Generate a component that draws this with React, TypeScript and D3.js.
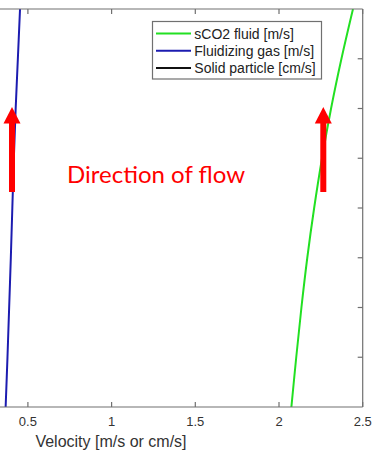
import React from "react";
import * as d3 from "d3";

// Height stations along the riser (evenly spaced) and velocities at each station
const heights = [0, 1, 2, 3, 4, 5, 6, 7, 8];
const sco2Velocity = [2.074, 2.103, 2.134, 2.169, 2.21, 2.257, 2.311, 2.373, 2.442];
const gasVelocity = [0.367, 0.378, 0.388, 0.398, 0.407, 0.416, 0.427, 0.44, 0.453];
const xTicks = [0.5, 1, 1.5, 2, 2.5];
const yTicks = [1, 2, 3, 4, 5, 6, 7];

const legendItems = [
  { label: "sCO2 fluid [m/s]", color: "#22e022" },
  { label: "Fluidizing gas [m/s]", color: "#1c1cb0" },
  { label: "Solid particle [cm/s]", color: "#111111" },
];

const W = 374;
const H = 451;
const plotTop = 9;
const plotBottom = 407;
const plotRight = 362.7;
const pxPerUnit = 167.4;

export default function App() {
  const x = d3
    .scaleLinear()
    .domain([0, 2.5])
    .range([plotRight - 2.5 * pxPerUnit, plotRight]);
  const y = d3.scaleLinear().domain([0, 8]).range([plotBottom, plotTop]);

  const line = (vals: number[]) =>
    d3
      .line<number>()
      .x((v) => x(v))
      .y((_, i) => y(heights[i]))
      .curve(d3.curveCatmullRom)(vals) || "";

  const axisColor = "#707070";
  const tickLen = 5;
  const font = "'Liberation Sans', Arial, Helvetica, sans-serif";

  const arrow = (cx: number) => (
    <g fill="#ff0000">
      <rect x={cx - 3} y={122} width={6} height={70} />
      <path d={`M${cx},107 L${cx + 8.5},123.5 L${cx - 8.5},123.5 Z`} />
    </g>
  );

  return (
    <svg
      width={W}
      height={H}
      style={{ position: "absolute", left: 0, top: 0, background: "#fff" }}
    >
      <defs>
        <clipPath id="plot-clip">
          <rect x={x(0)} y={plotTop} width={plotRight - x(0)} height={plotBottom - plotTop} />
        </clipPath>
      </defs>
      <rect width={W} height={H} fill="#fff" />

      {/* data lines */}
      <g clipPath="url(#plot-clip)" fill="none" strokeWidth={2}>
        <path d={line(gasVelocity)} stroke="#1c1cb0" />
        <path d={line(sco2Velocity)} stroke="#22e022" />
      </g>

      {/* axes frame */}
      <g stroke={axisColor} strokeWidth={1.2} fill="none">
        <line x1={x(0)} x2={plotRight} y1={plotTop} y2={plotTop} />
        <line x1={x(0)} x2={plotRight} y1={plotBottom} y2={plotBottom} />
        <line x1={plotRight} x2={plotRight} y1={plotTop} y2={plotBottom} />
        {xTicks.map((t) => (
          <g key={t}>
            <line x1={x(t)} x2={x(t)} y1={plotBottom} y2={plotBottom - tickLen} />
            <line x1={x(t)} x2={x(t)} y1={plotTop} y2={plotTop + tickLen} />
          </g>
        ))}
        {yTicks.map((t) => (
          <line key={t} x1={plotRight} x2={plotRight - tickLen} y1={y(t)} y2={y(t)} />
        ))}
      </g>

      {/* tick labels */}
      <g fontFamily={font} fontSize={13} fill="#333" textAnchor="middle">
        {xTicks.map((t) => (
          <text key={t} x={x(t)} y={426}>
            {String(t)}
          </text>
        ))}
      </g>
      <text
        x={111}
        y={446.5}
        fontFamily={font}
        fontSize={16}
        fill="#333"
        textAnchor="middle"
      >
        Velocity [m/s or cm/s]
      </text>

      {/* legend */}
      <g>
        <rect x={152.5} y={21.5} width={169} height={57.5} fill="#fff" stroke={axisColor} strokeWidth={1.2} />
        {legendItems.map((item, i) => {
          const ly = 33.5 + i * 17.2;
          return (
            <g key={item.label}>
              <line x1={156} x2={191} y1={ly} y2={ly} stroke={item.color} strokeWidth={2} />
              <text x={194.3} y={ly + 5} fontFamily={font} fontSize={14} fill="#222">
                {item.label}
              </text>
            </g>
          );
        })}
      </g>

      {/* flow direction annotation */}
      {arrow(12)}
      {arrow(323.3)}
      <text
        x={67}
        y={183}
        fontFamily="Lato, 'Open Sans', sans-serif"
        fontSize={23.5}
        textLength={178}
        lengthAdjust="spacingAndGlyphs"
        fill="#ff0000"
      >
        Direction of flow
      </text>
    </svg>
  );
}
